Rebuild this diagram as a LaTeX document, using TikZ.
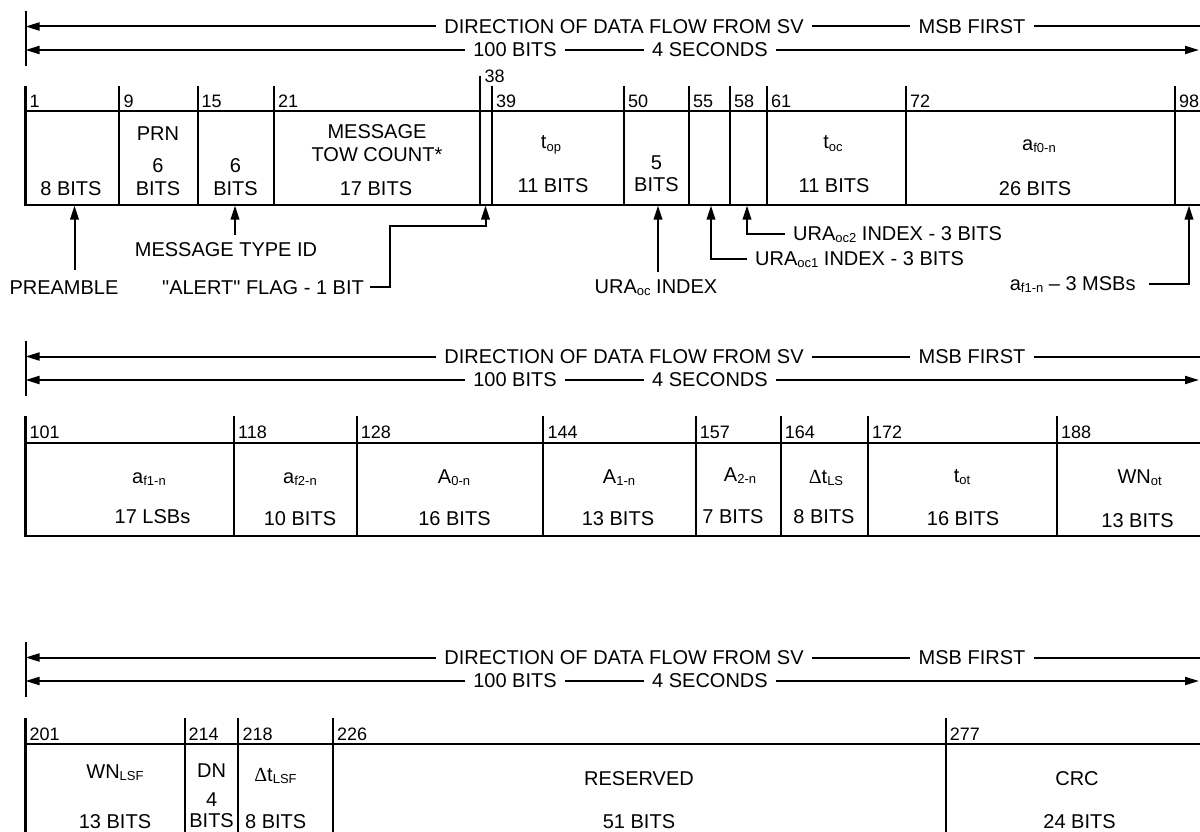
\documentclass[tikz,border=0pt]{standalone}
\usepackage{fontspec}
\setmainfont{Liberation Sans}
\newfontfamily\qf{Liberation Sans}
\newfontfamily\dserif{Liberation Serif}
\usetikzlibrary{arrows.meta}
\newcommand\sbx[1]{\raisebox{-0.12em}{\fontsize{13}{13}\selectfont #1}}
\newcommand\dlt{{\dserif Δ}}
\newcommand\sq{{\qf"}}
\tikzset{
 ht/.style={font=\fontsize{20}{24}\selectfont, inner xsep=8pt, inner ysep=3pt},
 tx/.style={font=\fontsize{20}{24}\selectfont, inner sep=0pt, anchor=base},
 txw/.style={font=\fontsize{20}{24}\selectfont, inner sep=0pt, anchor=base west},
 nm/.style={font=\fontsize{18}{20}\selectfont, inner sep=0pt, anchor=base west},
 hl/.style={line width=2pt},
 harr/.style={line width=2pt, -{Triangle[length=14pt,width=8pt]}},
 bl/.style={line width=2pt},
 lb/.style={line width=3.5pt},
 uarr/.style={line width=2pt, -{Triangle[length=14pt,width=8.5pt]}},
}
\newcommand\hdr[2]{%
\begin{scope}[yshift=-#2pt]
 \coordinate (#1tt) at (25.5,11); \coordinate (#1tb) at (25.5,66);
 \draw[hl] (#1tt) -- (#1tb);
 \node[ht] (#1dir) at (624,26.5) {DIRECTION OF DATA FLOW FROM SV};
 \node[ht] (#1msb) at (972,26.5) {MSB FIRST};
 \node[ht] (#1hb) at (515,50) {100 BITS};
 \node[ht] (#1sec) at (710,50) {4 SECONDS};
 \coordinate (#1al) at (25.5,26.5); \coordinate (#1ar) at (1215,26.5);
 \coordinate (#1bl) at (25.5,50); \coordinate (#1br) at (1199,50);
 \draw[harr] (#1dir) -- (#1al);
 \draw[hl] (#1dir) -- (#1msb);
 \draw[hl] (#1msb) -- (#1ar);
 \draw[harr] (#1hb) -- (#1bl);
 \draw[hl] (#1hb) -- (#1sec);
 \draw[harr] (#1sec) -- (#1br);
\end{scope}}
\begin{document}
\begin{tikzpicture}[x=1pt,y=-1pt]
\path[use as bounding box] (0,0) rectangle (1200,832);
\clip (0,0) rectangle (1200,832);

\hdr{ha}{0}
\hdr{hb}{330}
\hdr{hc}{631}

% ---------------- Section 1 ----------------
\draw[bl] (25.5,111.5) -- (1215,111.5);
\draw[bl] (25.5,204.5) -- (1215,204.5);
\draw[lb] (25.5,86) -- (25.5,205.5);
\node[nm] (a1) at (29.5,108) {1};
\foreach \x/\n in {119.4/9, 197.5/15, 274/21, 491.8/39, 624/50, 688.8/55, 730/58, 767/61, 906/72, 1174.8/98} {
 \draw[bl] (\x,86) -- (\x,204.5);
 \node[nm] (a\n) at (\x+4,108) {\n};
}
\draw[bl] (480.3,76) -- (480.3,204.5);
\node[nm] (a38) at (484.3,83) {38};

\node[tx] (c8b) at (71,196) {8 BITS};
\node[tx] (cprn) at (158,141) {PRN};
\node[tx] (c6a) at (158,173) {6};
\node[tx] (c6ab) at (158,195) {BITS};
\node[tx] (c6b) at (235.5,173) {6};
\node[tx] (c6bb) at (235.5,195) {BITS};
\node[tx] (cmsg) at (377,139) {MESSAGE};
\node[tx] (ctow) at (377,161) {TOW COUNT*};
\node[tx] (c17) at (376,195) {17 BITS};
\node[tx] (ctop) at (551,149) {t\sbx{op}};
\node[tx] (c11a) at (553,193) {11 BITS};
\node[tx] (c5) at (656.4,170) {5};
\node[tx] (c5b) at (656.4,192) {BITS};
\node[tx] (ctoc) at (833,149) {t\sbx{oc}};
\node[tx] (c11b) at (834,193) {11 BITS};
\node[tx] (caf0) at (1039,150) {a\sbx{f0-n}};
\node[tx] (c26) at (1035,195) {26 BITS};

% pointers below section 1
\node[tx] (pre) at (64,294) {PREAMBLE};
\coordinate (pre0) at (74.5,270); \coordinate (pre1) at (74.5,205.5);
\draw[uarr] (pre0) -- (pre1);

\node[tx] (mtid) at (226,256) {MESSAGE TYPE ID};
\coordinate (mt0) at (235,235); \coordinate (mt1) at (235,205.5);
\draw[uarr] (mt0) -- (mt1);

\node[tx] (alert) at (263,294) {\sq ALERT\sq{} FLAG - 1 BIT};
\coordinate (al2) at (389.6,226); \coordinate (al4) at (485.5,205.5);
\draw[uarr] ([xshift=6pt]alert.east) -| (al2) -| (al4);

\node[tx] (uraoc) at (656,293) {URA\sbx{oc} INDEX};
\coordinate (uo0) at (658,272); \coordinate (uo1) at (658,205.5);
\draw[uarr] (uo0) -- (uo1);

\node[txw] (ura1) at (755,265) {URA\sbx{oc1} INDEX - 3 BITS};
\coordinate (u1) at (711,205.5);
\draw[uarr] ([xshift=-8pt]ura1.west) -| (u1);

\node[txw] (ura2) at (793,240) {URA\sbx{oc2} INDEX - 3 BITS};
\coordinate (u2) at (747,205.5);
\draw[uarr] ([xshift=-8pt]ura2.west) -| (u2);

\node[tx] (af1m) at (1072.7,290) {a\sbx{f1-n} – 3 MSBs};
\coordinate (f1) at (1189,205.5);
\draw[uarr] ([xshift=13pt]af1m.east) -| (f1);

% ---------------- Section 2 ----------------
\draw[bl] (25.5,443) -- (1215,443);
\draw[bl] (25.5,536) -- (1215,536);
\draw[lb] (25.5,416) -- (25.5,537);
\node[nm] (b101) at (29.5,438) {101};
\foreach \x/\n in {234/118, 356.7/128, 543.4/144, 695.7/157, 780.6/164, 868/172, 1057/188} {
 \draw[bl] (\x,416) -- (\x,536);
 \node[nm] (b\n) at (\x+4,438) {\n};
}
\node[tx] (daf1) at (149,483) {a\sbx{f1-n}};
\node[tx] (d17) at (152.5,523) {17 LSBs};
\node[tx] (daf2) at (300,483) {a\sbx{f2-n}};
\node[tx] (d10) at (300,525) {10 BITS};
\node[tx] (dA0) at (454,483) {A\sbx{0-n}};
\node[tx] (d16a) at (454.5,525) {16 BITS};
\node[tx] (dA1) at (619,483) {A\sbx{1-n}};
\node[tx] (d13a) at (618,525) {13 BITS};
\node[tx] (dA2) at (740,481) {A\sbx{2-n}};
\node[tx] (d7) at (733,523) {7 BITS};
\node[tx] (dls) at (826,483) {\dlt t\sbx{LS}};
\node[tx] (d8) at (824,523) {8 BITS};
\node[tx] (dtot) at (962,482) {t\sbx{ot}};
\node[tx] (d16b) at (963,525) {16 BITS};
\node[tx] (dwn) at (1139.6,483) {WN\sbx{ot}};
\node[tx] (d13b) at (1137.5,527) {13 BITS};

% ---------------- Section 3 ----------------
\draw[bl] (25.5,744) -- (1215,744);
\draw[bl] (25.5,850) -- (1215,850);
\draw[lb] (25.5,718) -- (25.5,850);
\node[nm] (e201) at (29.5,740) {201};
\foreach \x/\n in {184.5/214, 238.4/218, 333/226, 945.6/277} {
 \draw[bl] (\x,718) -- (\x,850);
 \node[nm] (e\n) at (\x+4,740) {\n};
}
\node[tx] (fwn) at (115,778) {WN\sbx{LSF}};
\node[tx] (f13) at (115,828) {13 BITS};
\node[tx] (fdn) at (211.6,777) {DN};
\node[tx] (f4) at (211.6,806) {4};
\node[tx] (f4b) at (211.6,827) {BITS};
\node[tx] (flsf) at (275.5,781) {\dlt t\sbx{LSF}};
\node[tx] (f8) at (275.7,828) {8 BITS};
\node[tx] (fres) at (639,785) {RESERVED};
\node[tx] (f51) at (639,828) {51 BITS};
\node[tx] (fcrc) at (1077,785) {CRC};
\node[tx] (f24) at (1079.5,828) {24 BITS};
\end{tikzpicture}
\end{document}
